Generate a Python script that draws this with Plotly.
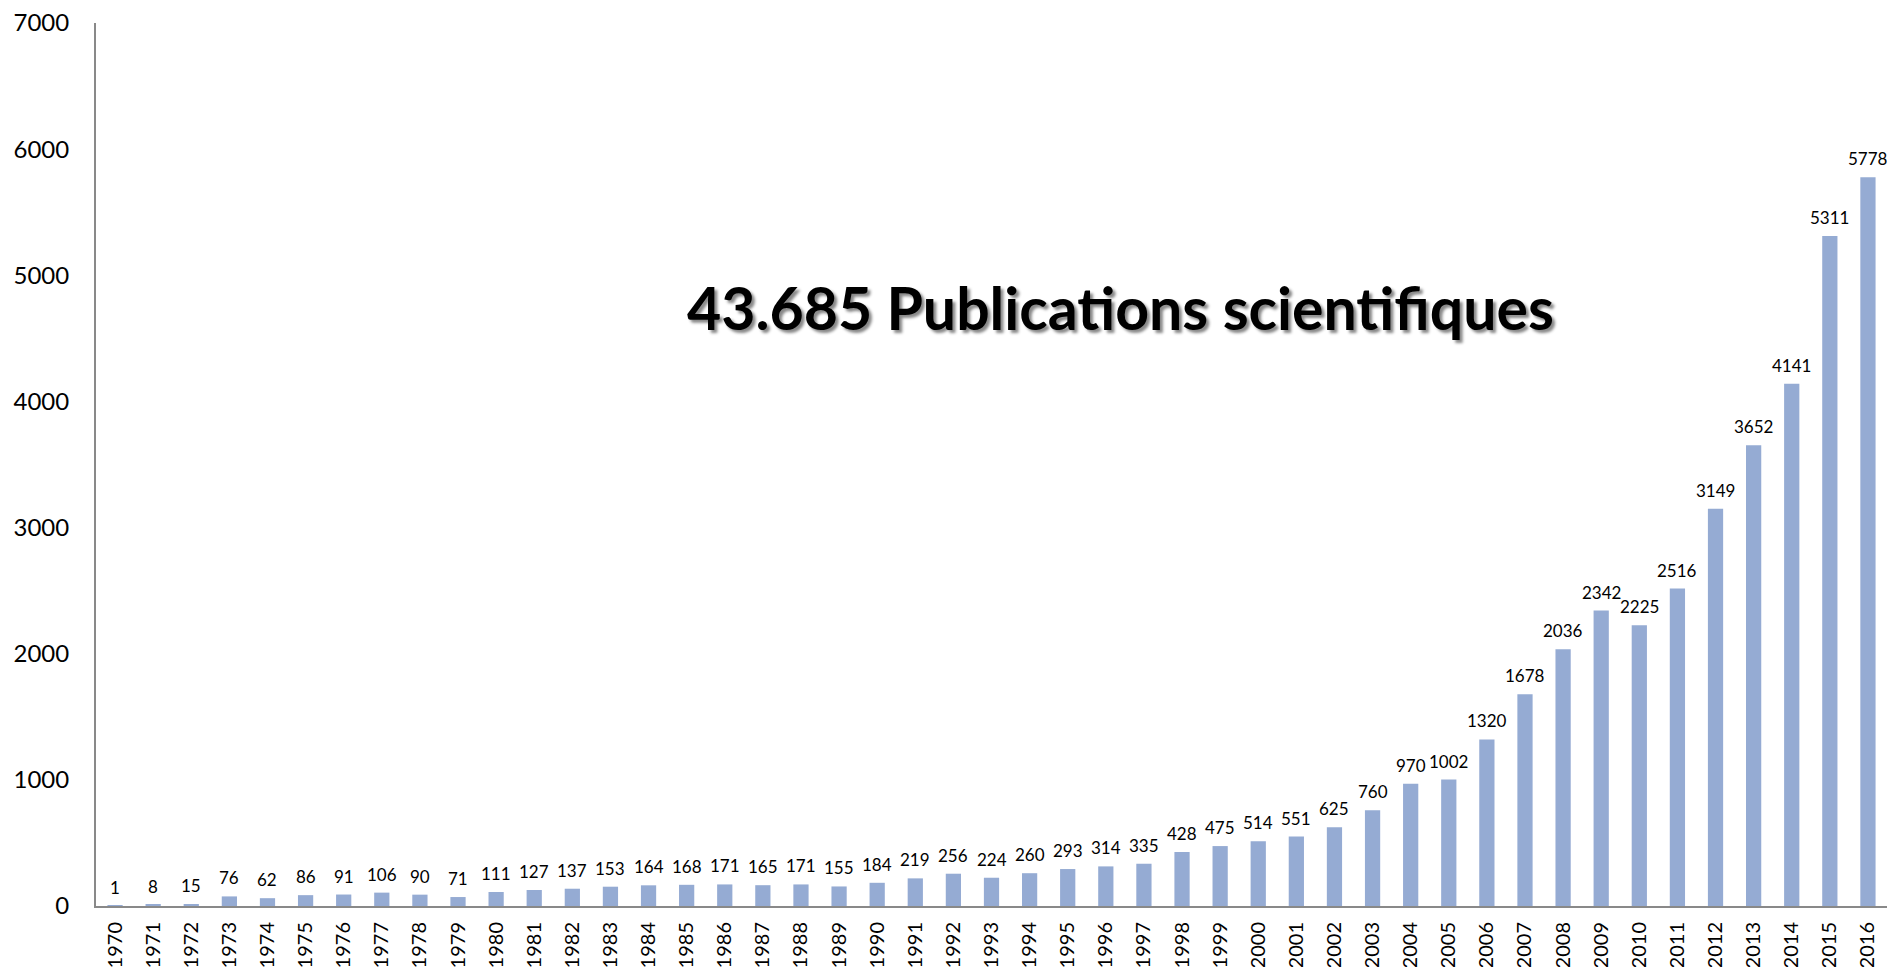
import plotly.graph_objects as go

years = [str(y) for y in range(1970, 2017)]
publications = [1, 8, 15, 76, 62, 86, 91, 106, 90, 71, 111, 127, 137, 153, 164, 168, 171, 165, 171, 155,
                184, 219, 256, 224, 260, 293, 314, 335, 428, 475, 514, 551, 625, 760, 970, 1002, 1320,
                1678, 2036, 2342, 2225, 2516, 3149, 3652, 4141, 5311, 5778]
y_ticks = [0, 1000, 2000, 3000, 4000, 5000, 6000, 7000]
title_text = "43.685 Publications scientifiques"

FONT = "Lato, Carlito, Calibri, sans-serif"

fig = go.Figure(go.Bar(
    x=years, y=publications,
    marker=dict(color="#95abd3", line=dict(width=0)),
    width=0.4,
    hoverinfo="x+y",
))

# value labels placed at category index positions on the category axis
value_labels = [
    dict(x=i, y=v, xref="x", yref="y", text=str(v), showarrow=False,
         xanchor="center", yanchor="bottom", yshift=6,
         font=dict(family=FONT, size=17, color="#000000"))
    for i, v in enumerate(publications)
]

fig.update_layout(
    width=1879, height=959,
    margin=dict(l=88, r=0, t=15, b=61, autoexpand=False),
    paper_bgcolor="white", plot_bgcolor="white",
    showlegend=False,
    font=dict(family=FONT, color="#000000"),
    annotations=value_labels + [dict(
        text=title_text, x=0.572, y=0.678, xref="paper", yref="paper",
        showarrow=False, xanchor="center", yanchor="middle",
        font=dict(family=FONT, size=59, color="#000000", weight="bold",
                  shadow="3px 3px 3px #888888"),
    )],
)
fig.update_xaxes(
    type="category", range=[-0.5, len(years) - 0.5],
    showline=True, linecolor="#898989", linewidth=2,
    ticks="", showgrid=False, tickangle=-90, automargin=False,
    tickfont=dict(family=FONT, size=20, color="#000000"),
    ticklabelstandoff=6, ticklabeloverflow="allow",
)
fig.update_yaxes(
    range=[0, 7000], tickvals=y_ticks, showline=True, linecolor="#898989", linewidth=2,
    ticks="", showgrid=False, zeroline=False, automargin=False,
    tickfont=dict(family=FONT, size=24, color="#000000"),
    ticklabelstandoff=20, ticklabeloverflow="allow",
)

fig.write_html("out.html")
